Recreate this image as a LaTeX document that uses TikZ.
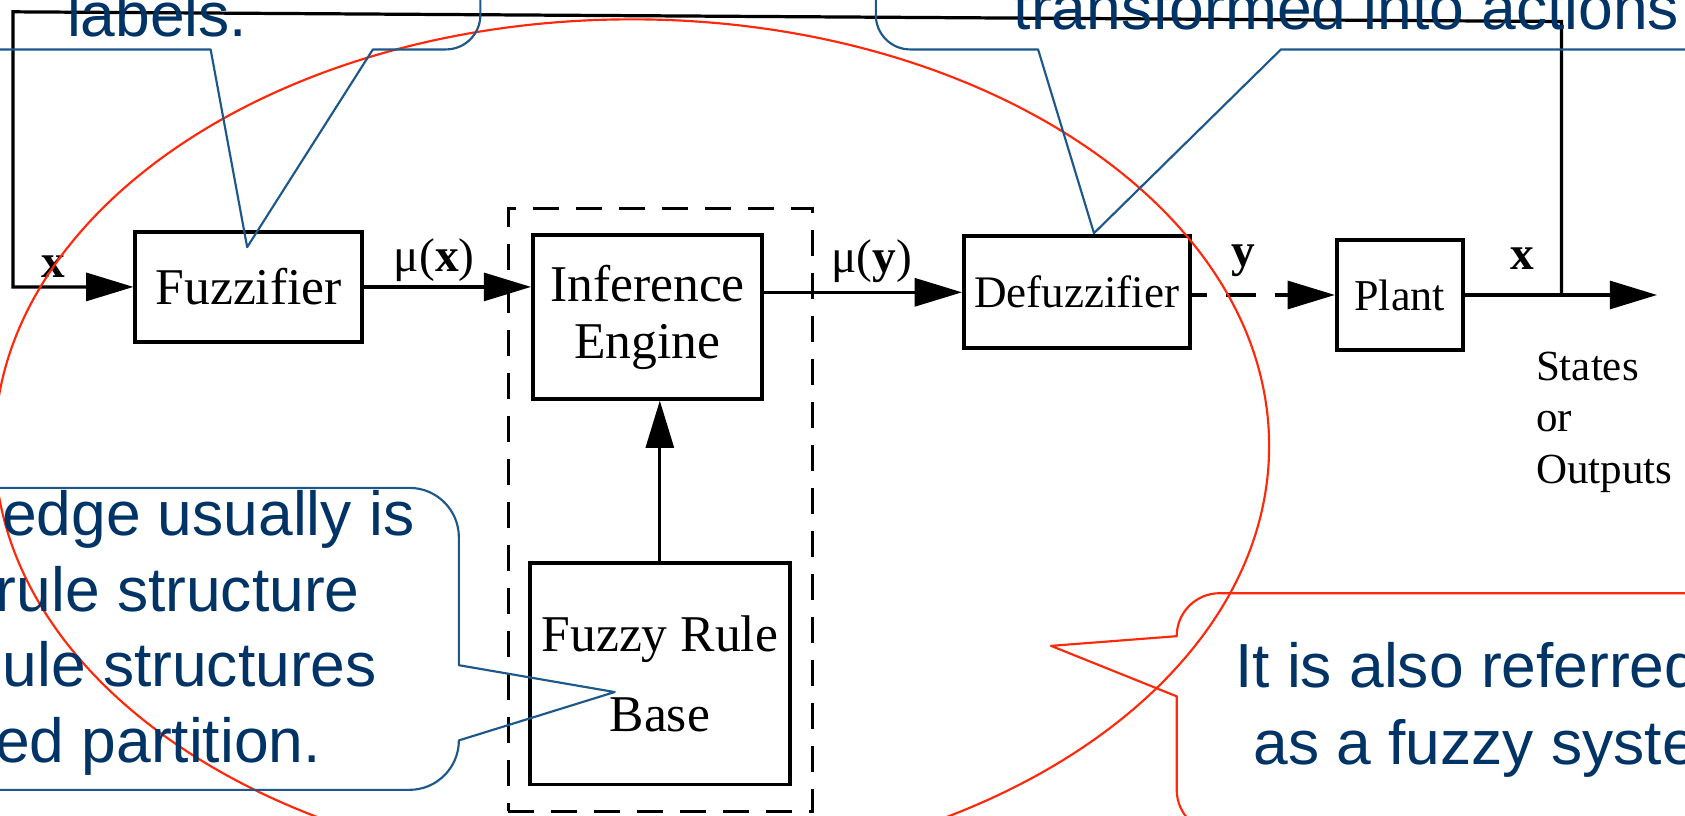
\documentclass[tikz,border=0pt]{standalone}
\usepackage{fontspec}
\setmainfont{Liberation Serif}
\newfontfamily\callfont{Liberation Sans}
\usetikzlibrary{arrows.meta}
\definecolor{navy}{RGB}{0,51,102}
\definecolor{callblue}{RGB}{30,88,138}
\definecolor{callred}{RGB}{255,40,10}

\begin{document}
\begin{tikzpicture}[x=0.5pt,y=-0.5pt,
  blk/.style={draw, line width=1.8pt, inner sep=0pt, align=center,
              font=\fontsize{24}{26.5}\selectfont},
  wire/.style={line width=1.5pt},
  arr/.style={-{Triangle[length=22pt,width=13pt]}},
  sig/.style={inner sep=0pt, font=\fontsize{22}{24}\selectfont},
  note/.style={inner sep=0pt, text=navy, font=\callfont\fontsize{29}{35}\selectfont},
  bubble/.style={line width=1pt, line join=round},
]
\useasboundingbox (0,0) rectangle (1568,759);
\fill[white] (0,0) rectangle (1568,759);
\clip (0,0) rectangle (1568,759);

% rule base group (dashed)
\node[draw, line width=1.5pt, dash pattern=on 12pt off 8pt, inner sep=0pt,
      minimum width=141.5pt, minimum height=280.5pt] (grp) at (614.5,474.5) {};

% blocks
\node[blk, minimum width=105.5pt, minimum height=51pt] (fz) at (231.5,267) {Fuzzifier};
\node[blk, minimum width=106.5pt, minimum height=76pt] (ie) at (602.5,295) {Inference\\Engine};
\node[blk, minimum width=121pt, minimum height=103pt,
      font=\fontsize{24}{37}\selectfont] (frb) at (614,627) {Fuzzy Rule\\Base};
\node[blk, minimum width=105pt, minimum height=52pt,
      font=\fontsize{21}{24}\selectfont] (df) at (1002,272) {Defuzzifier};
\node[blk, minimum width=58.5pt, minimum height=51.5pt,
      font=\fontsize{20.5}{24}\selectfont] (pl) at (1302.5,274.5) {Plant};

% signal path
\coordinate (jn) at (1453,274.5);
\coordinate (out) at (1542,274.5);
\coordinate (tr) at (1453,20);
\coordinate (tl) at (12,11);
\coordinate (bl) at (12,267);

\draw[wire, arr] (jn) -- (tr) -- (tl) -- (bl) -- (fz.west);
\draw[wire, arr] (fz.east) -- (fz.east -| ie.west);
\draw[wire, arr] (frb.north) -- (frb.north |- ie.south);
\draw[wire, arr] (df.west -| ie.east) -- (df.west);
\draw[wire, arr, dash pattern=on 7pt off 9pt on 14pt off 9pt] (pl.west -| df.east) -- (pl.west);
\draw[wire, arr] (pl.east) -- (out);

% signal labels
\node[sig, font=\fontsize{22}{24}\selectfont\bfseries] (lx) at (50,248) {x};
\node[sig] (lmux) at (404,242) {μ(\textbf{x})};
\node[sig] (lmuy) at (811,243) {μ(\textbf{y})};
\node[sig, font=\fontsize{22}{24}\selectfont\bfseries] (ly) at (1157,243) {y};
\node[sig, font=\fontsize{22}{24}\selectfont\bfseries] (lx2) at (1417,241) {x};
\node[inner sep=0pt, anchor=base west, align=left,
      font=\fontsize{20}{24}\selectfont] (so) at (1429,450) {States\\or\\Outputs};

% highlight ellipse
\draw[callred, line width=1pt] (588,415) ellipse [x radius=593, y radius=397];

% callout: fuzzifier
\draw[callblue, bubble] (-10,46) -- (196,46) -- (230,230) -- (347,46) -- (415,46)
  .. controls (432.7,46) and (447,31.7) .. (447,14) -- (447,-10);
\node[note, anchor=base west] (t1) at (62,34) {labels.};

% callout: defuzzifier
\draw[callblue, bubble] (815,-10) -- (815,14)
  .. controls (815,31.7) and (829.3,46) .. (847,46) -- (966,46) -- (1018,217)
  -- (1192,46) -- (1580,46);
\node[note, anchor=base west] (t2) at (943,27) {transformed into actions};

% callout: rule base
\draw[callblue, bubble] (-10,454) -- (381,454)
  .. controls (406.4,454) and (427,474.6) .. (427,500) -- (427,619) -- (572,644)
  -- (427,689) .. controls (427,714.4) and (406.4,735) .. (381,735) -- (-10,735);
\node[note, anchor=base east] (t3a) at (386,498) {edge usually is};
\node[note, anchor=base east] (t3b) at (335,569.5) {rule structure};
\node[note, anchor=base east] (t3c) at (351,639) {ule structures};
\node[note, anchor=base east] (t3d) at (299,710) {ed partition.};

% callout: whole system
\draw[callred, bubble] (1580,552) -- (1135,552)
  .. controls (1112.9,552) and (1095,569.9) .. (1095,592) -- (978,601)
  -- (1095,648) -- (1095,735) .. controls (1095,757.1) and (1112.9,775) .. (1135,775)
  -- (1580,775);
\node[note, anchor=base west] (t4a) at (1149,640) {It is also referred};
\node[note, anchor=base west] (t4b) at (1166,711) {as a fuzzy syste};
\end{tikzpicture}
\end{document}
